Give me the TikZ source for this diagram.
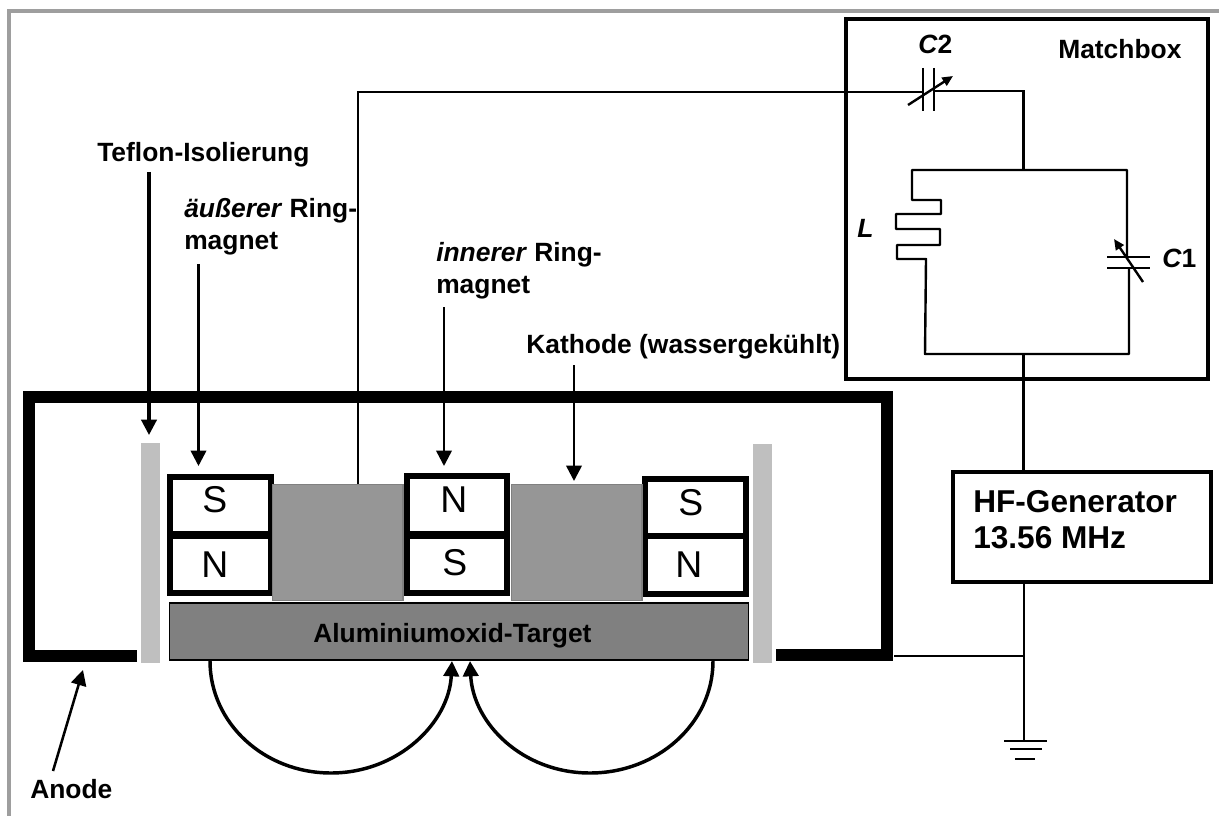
\documentclass[tikz,border=0pt]{standalone}
\usepackage{fontspec}
\setmainfont{Liberation Sans}
\usetikzlibrary{arrows.meta}
\tikzset{
 x=0.75pt,y=-0.75pt,
 lbl/.style={font=\fontsize{19.8}{24}\selectfont\bfseries,inner sep=0pt,align=left},
 pole/.style={draw=black,line width=4.5pt,fill=white,inner sep=0pt,minimum width=75.5pt,minimum height=43pt},
 poletxt/.style={font=\fontsize{28}{30}\selectfont,inner sep=0pt,anchor=base west},
 wire/.style={draw=black,line width=1.8pt},
 arr/.style={draw=black,line width=1.9pt,-{Triangle[length=11.5pt,width=11.5pt]}},
 teflon/.style={fill=black!25},
 cath/.style={fill=black!41,draw=black!50,line width=1pt,minimum width=98pt,minimum height=87pt,inner sep=0pt},
 anode/.style={draw=black,line width=9pt},
 field/.style={draw=black,line width=2.6pt,-{Triangle[length=11.5pt,width=11.5pt]}},
 varcap/.style={wire,-{Triangle[length=8pt,width=7pt]}}
}
\begin{document}
\begin{tikzpicture}
\useasboundingbox (0,0) rectangle (1219,816);
\fill[white] (0,0) rectangle (1219,816);
\draw[black!38,line width=2.4pt] (9,816) -- (9,11) -- (1219,11);
% teflon
\fill[teflon] (141,443) rectangle (160,663);
\fill[teflon] (753,444) rectangle (772,663);
% anode
\draw[anode] (137,656) -- (29,656) -- (29,397) -- (887,397) -- (887,655) -- (776,655);
% magnets
\node[pole] (s1) at (220.5,505.5) {};
\node[pole] (n1) at (220.5,564.5) {};
\node[pole] (n2) at (457,505) {};
\node[pole] (s2) at (457,564.5) {};
\node[pole] (s3) at (695.5,508) {};
\node[pole] (n3) at (695.5,565) {};
\node[poletxt] (ts1) at (202,512) {S};
\node[poletxt] (tn1) at (201,577) {N};
\node[poletxt] (tn2) at (440,512) {N};
\node[poletxt] (ts2) at (442,575) {S};
\node[poletxt] (ts3) at (678,515) {S};
\node[poletxt] (tn3) at (675,577) {N};
% cathodes
\node[cath] (k1) at (337.5,542.5) {};
\node[cath] (k2) at (576.5,542.5) {};
% target
\node[draw=black,line width=1.2pt,fill=black!50,minimum width=434pt,minimum height=43pt,inner sep=0pt] (t) at (459,631.5) {};
\node[lbl,anchor=base west] (tt) at (313,642) {Aluminiumoxid-Target};
% field arcs
\coordinate (a1) at (210,661); \coordinate (a2) at (331,773); \coordinate (a3) at (452,661);
\coordinate (b1) at (713,661); \coordinate (b2) at (590,773); \coordinate (b3) at (470,661);
\draw[field] (a1) .. controls (210,723) and (264,773) .. (a2) .. controls (398,773) and (449,723) .. (a3);
\draw[field] (b1) .. controls (713,723) and (658,773) .. (b2) .. controls (522,773) and (473,723) .. (b3);
% labels and pointers
\node[lbl,anchor=base west] (lt) at (97,162) {Teflon-Isolierung};
\node[lbl,anchor=base west] (la) at (184,218) {\textit{äußerer} Ring-};
\node[lbl,anchor=base west] (la2) at (184,250) {magnet};
\node[lbl,anchor=base west] (li) at (436,262) {\textit{innerer} Ring-};
\node[lbl,anchor=base west] (li2) at (436,293) {magnet};
\node[lbl,anchor=base west] (lk) at (526,353) {Kathode (wassergekühlt)};
\node[lbl,anchor=base west] (lan) at (30,798) {Anode};
\coordinate (p1s) at (149,172); \coordinate (p1e) at (149,435);
\coordinate (p2s) at (198.5,264); \coordinate (p2e) at (198.5,466);
\coordinate (p3s) at (444,307); \coordinate (p3e) at (444,466);
\coordinate (p4s) at (574,365); \coordinate (p4e) at (574,481);
\coordinate (p5s) at (53,771); \coordinate (p5e) at (83,670);
\draw[arr,line width=2.3pt] (p1s) -- (p1e);
\draw[arr] (p2s) -- (p2e);
\draw[arr] (p3s) -- (p3e);
\draw[arr] (p4s) -- (p4e);
\draw[arr] (p5s) -- (p5e);
% matchbox
\node[draw=black,line width=3pt,minimum width=271.5pt,minimum height=270pt,inner sep=0pt] (mb) at (1027,199) {};
\node[lbl,anchor=base west] (lm) at (1058,59) {Matchbox};
\node[lbl,anchor=base west] (lc2) at (918,54) {\textit{C}2};
\node[lbl,anchor=base west] (ll) at (857,238) {\textit{L}};
\node[lbl,anchor=base west] (lc1) at (1162,268) {\textit{C}1};
% circuit
\coordinate (c2a) at (923,92); \coordinate (c2b) at (934,91);
\coordinate (top) at (1023.5,170); \coordinate (bot) at (1023.5,354);
\draw[wire] (358,484) -- (358,92) -- (c2a);
\draw[wire] (923,68) -- (923,111);
\draw[wire] (934,68) -- (934,111);
\draw[wire] (c2b) -- (1023.5,91) -- (top);
\draw[wire,line join=round] (1127,257) -- (1127,170) -- (912,170) -- (912,200) -- (941,200) -- (941,214) -- (896,214) -- (896,229) -- (940,229) -- (940,245) -- (897,245) -- (897,259) -- (926,259) -- (925,354) -- (1129,354) -- (1129,268);
\draw[wire] (1107,257) -- (1150,257);
\draw[wire] (1107,268) -- (1150,268);
\draw[varcap] (908,105) -- (953,76);
\draw[varcap] (1143,282) -- (1114,239);
% generator
\node[draw=black,line width=2.8pt,minimum width=193pt,minimum height=83pt,inner sep=0pt] (hf) at (1082,527) {};
\node[anchor=base west,inner sep=0pt,font=\fontsize{23.7}{27}\selectfont\bfseries] (hf1) at (973,512) {HF-Generator};
\node[anchor=base west,inner sep=0pt,font=\fontsize{23.7}{27}\selectfont\bfseries] (hf2) at (973,548) {13.56 MHz};
\coordinate (j) at (1024,656);
\coordinate (g) at (1024,741);
\draw[wire] (bot) -- (hf.north -| bot);
\draw[wire] (hf.south -| g) -- (g);
\draw[wire] (894,656) -- (j);
\draw[wire] (1004,741) -- (1047,741);
\draw[wire] (1010,749) -- (1042,749);
\draw[wire] (1015,759) -- (1035,759);
\end{tikzpicture}
\end{document}
